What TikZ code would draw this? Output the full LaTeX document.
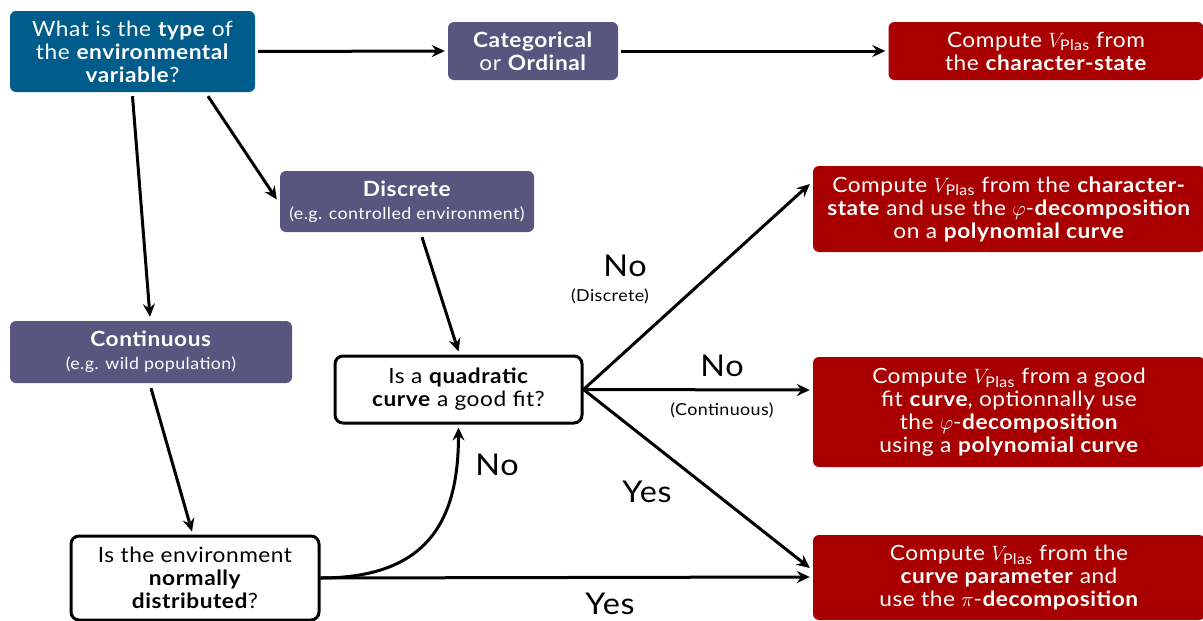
\documentclass[tikz,border=0pt]{standalone}
\usepackage{fontspec}
\setmainfont{Lato}[FakeStretch=1.08,LetterSpace=2.5]
\usepackage{amsmath}
\usetikzlibrary{arrows.meta}
\definecolor{qblue}{RGB}{0,92,138}
\definecolor{catpurple}{RGB}{88,85,126}
\definecolor{resred}{RGB}{168,0,0}
\newcommand{\Vp}{$V_{\text{Plas}}$}
\newcommand{\smalltxt}{\fontsize{16.5}{19}\selectfont}
\begin{document}
\begin{tikzpicture}[x=1pt,y=-1pt,
  base/.style={rounded corners=6pt, align=center, inner sep=0pt, font=\fontsize{21}{23}\selectfont},
  qbox/.style={base, fill=qblue, text=white},
  catbox/.style={base, fill=catpurple, text=white},
  resbox/.style={base, fill=resred, text=white},
  askbox/.style={base, draw=black, line width=3pt, fill=white, rounded corners=8pt},
  arr/.style={line width=3pt, -{Stealth[length=13pt,width=12pt,inset=4.5pt]}},
  biglbl/.style={font=\fontsize{30}{32}\selectfont, inner sep=0pt},
  smalllbl/.style={font=\fontsize{16.5}{19}\selectfont, inner sep=0pt}
]
\useasboundingbox (0,0) rectangle (1203,621);

\node[qbox, minimum width=245pt, minimum height=81pt] (q1) at (132.5,51.5)
  {What is the \textbf{type} of\\the \textbf{environmental}\\\textbf{variable}?};
\node[catbox, minimum width=170pt, minimum height=58pt] (cat) at (533,51)
  {\textbf{Categorical}\\or \textbf{Ordinal}};
\node[resbox, minimum width=315pt, minimum height=58pt] (r1) at (1046,51)
  {Compute \Vp{} from\\the \textbf{character-state}};
\node[catbox, minimum width=254pt, minimum height=61pt] (disc) at (407,201.5)
  {\textbf{Discrete}\\{\smalltxt (e.g. controlled environment)}};
\node[catbox, minimum width=282pt, minimum height=62pt] (cont) at (151,352)
  {\textbf{Continuous}\\{\smalltxt (e.g. wild population)}};
\node[askbox, minimum width=247pt, minimum height=67pt] (quad) at (458.5,389.5)
  {Is a \textbf{quadratic}\\\textbf{curve} a good fit?};
\node[askbox, minimum width=248pt, minimum height=84pt] (norm) at (195,578)
  {Is the environment\\\textbf{normally}\\\textbf{distributed}?};
\node[resbox, minimum width=392pt, minimum height=86pt] (r2) at (1009,209)
  {Compute \Vp{} from the \textbf{character-}\\\textbf{state} and use the $\varphi$-\textbf{decomposition}\\on a \textbf{polynomial curve}};
\node[resbox, minimum width=392pt, minimum height=110pt] (r3) at (1009,412)
  {Compute \Vp{} from a good\\fit \textbf{curve}, optionnally use\\the $\varphi$-\textbf{decomposition}\\using a \textbf{polynomial curve}};
\node[resbox, minimum width=392pt, minimum height=85pt] (r4) at (1009,577.5)
  {Compute \Vp{} from the\\\textbf{curve parameter} and\\use the $\pi$-\textbf{decomposition}};

\draw[arr] ([xshift=3pt]q1.east) -- ([xshift=-3pt]cat.west);
\draw[arr] ([xshift=3pt]cat.east) -- ([xshift=-3pt]r1.west);
\draw[arr] ([xshift=75.5pt,yshift=-4pt]q1.south) -- ([xshift=-3pt,yshift=2pt]disc.west);
\draw[arr] ([yshift=-4pt]q1.south) -- ([xshift=-1pt,yshift=4pt]cont.north);
\draw[arr] ([xshift=15pt,yshift=-5pt]disc.south) -- ([yshift=3pt]quad.north);
\draw[arr] ([yshift=-5pt]cont.south) -- ([xshift=-3pt,yshift=3pt]norm.north);
\draw[arr] (norm.east) -- ([xshift=-3pt,yshift=0.5pt]r4.west);
\draw[arr] (norm.east) .. controls +(110,0) and +(0,90) .. ([yshift=-3pt]quad.south);
\draw[arr] (quad.east) -- ([xshift=-3pt,yshift=25pt]r2.west);
\draw[arr] (quad.east) -- ([xshift=-3pt,yshift=22pt]r3.west);
\draw[arr] (quad.east) -- ([xshift=-3pt,yshift=9.5pt]r4.west);

\node[biglbl] (lno1) at (625,266) {No};
\node[smalllbl] (ldisc) at (610,296) {(Discrete)};
\node[biglbl] (lno2) at (722,366) {No};
\node[smalllbl] (lcont) at (722,410) {(Continuous)};
\node[biglbl] (lyes1) at (647,492) {Yes};
\node[biglbl] (lyes2) at (610,604) {Yes};
\node[biglbl] (lno3) at (497,465) {No};
\end{tikzpicture}
\end{document}
